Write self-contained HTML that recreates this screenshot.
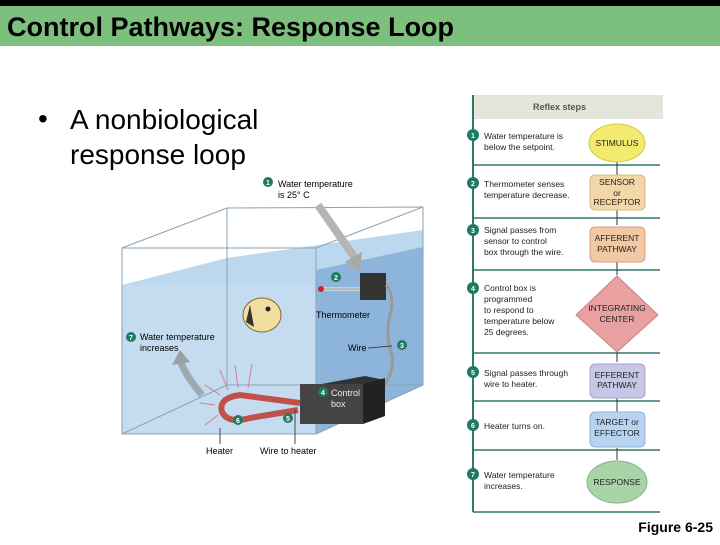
<!DOCTYPE html>
<html><head><meta charset="utf-8"><style>
body{margin:0;width:720px;height:540px;overflow:hidden;background:#fff;font-family:"Liberation Sans",sans-serif}
</style></head><body>
<svg width="720" height="540" xmlns="http://www.w3.org/2000/svg" font-family="Liberation Sans, sans-serif">
<rect x="0" y="0" width="720" height="6" fill="#000"/>
<rect x="0" y="6" width="720" height="40" fill="#7dbf7d"/>
<text x="7" y="36" font-size="27" font-weight="bold">Control Pathways: Response Loop</text>
<text x="38" y="128" font-size="28">•</text>
<text x="70" y="129" font-size="28">A nonbiological</text>
<text x="70" y="164" font-size="28">response loop</text>

<!-- tank -->
<polygon points="227,208 423,207 423,385 316,434 122,434 122,248" fill="#fff"/>
<polygon points="122,285 227,258 423,230 423,385 316,434 122,434" fill="#bcd8ee"/>
<polygon points="316,270 423,247 423,385 316,434" fill="#8db5dc"/>
<polygon points="122,285 316,285 316,434 122,434" fill="#c5dcf0"/>
<g fill="none" stroke="#8aa2b5" stroke-width="1">
<rect x="122" y="248" width="194" height="186"/>
<polyline points="122,248 227,208 423,207 316,248"/>
<line x1="423" y1="207" x2="423" y2="385"/><line x1="423" y1="385" x2="316" y2="434"/>
<line x1="227" y1="208" x2="227" y2="385"/><line x1="227" y1="385" x2="423" y2="385"/><line x1="227" y1="385" x2="122" y2="434"/>
</g>
<path d="M318,205 L355,258" stroke="#b5b5b5" stroke-width="8" fill="none"/>
<polygon points="345,262 362,252 360,272" fill="#a8a8a8"/>
<path d="M202,395 Q185,375 180,360" stroke="#a0a8b0" stroke-width="7" fill="none"/>
<polygon points="172,365 180,350 190,362" fill="#98a0a8"/>
<rect x="360" y="273" width="26" height="27" fill="#333"/>
<line x1="320" y1="289" x2="360" y2="289" stroke="#eee" stroke-width="3"/>
<line x1="320" y1="289" x2="360" y2="289" stroke="#888" stroke-width="1"/>
<circle cx="321" cy="289" r="3" fill="#c23"/>
<path d="M386,285 Q395,295 390,315 Q385,335 392,355 Q395,375 378,393" stroke="#999" stroke-width="3" fill="none"/>
<polygon points="300,388 365,376 385,380 320,392" fill="#333"/>
<rect x="300" y="384" width="63" height="40" fill="#444"/>
<polygon points="363,384 385,378 385,416 363,424" fill="#222"/>
<path d="M300,403 L240,395 Q218,398 222,412 Q228,424 250,418 L298,410" stroke="#c0514a" stroke-width="6" fill="none"/>
<g stroke="#d87a8a" stroke-width="1"><line x1="215" y1="405" x2="200" y2="403"/><line x1="220" y1="395" x2="205" y2="385"/><line x1="228" y1="390" x2="220" y2="370"/><line x1="238" y1="388" x2="235" y2="365"/><line x1="248" y1="388" x2="252" y2="364"/><line x1="218" y1="415" x2="205" y2="425"/></g>
<ellipse cx="262" cy="315" rx="19" ry="17" fill="#f1dfa0" stroke="#7a6a30"/>
<path d="M250,305 L246,322 L254,327" fill="#333"/>
<circle cx="268" cy="309" r="2.5" fill="#222"/>
<g font-size="9">
<circle cx="268" cy="182" r="5" fill="#1f7a63"/><text x="278" y="187">Water temperature</text><text x="278" y="198">is 25° C</text>
<circle cx="336" cy="277" r="5" fill="#1f7a63"/>
<text x="316" y="318">Thermometer</text>
<circle cx="131" cy="337" r="5" fill="#1f7a63"/><text x="140" y="340">Water temperature</text><text x="140" y="351">increases</text>
<text x="348" y="351">Wire</text><line x1="368" y1="348" x2="392" y2="346" stroke="#444"/>
<circle cx="402" cy="345" r="5" fill="#1f7a63"/>
<circle cx="323" cy="392" r="5" fill="#1f7a63"/><text x="331" y="396" fill="#eee">Control</text><text x="331" y="407" fill="#eee">box</text>
<circle cx="238" cy="420" r="5" fill="#1f7a63"/><circle cx="288" cy="418" r="5" fill="#1f7a63"/>
<text x="206" y="454">Heater</text><text x="260" y="454">Wire to heater</text>
<line x1="220" y1="444" x2="220" y2="428" stroke="#444"/><line x1="295" y1="444" x2="295" y2="410" stroke="#444"/>
</g>
<g font-size="7" font-weight="bold" fill="#fff" text-anchor="middle">
<text x="268" y="185">1</text><text x="336" y="280">2</text><text x="131" y="340">7</text><text x="402" y="348">3</text><text x="323" y="395">4</text><text x="238" y="423">6</text><text x="288" y="421">5</text>
</g>

<rect x="473" y="95" width="190" height="24" fill="#e4e6dc"/>
<text x="533" y="110" font-size="9" font-weight="bold" fill="#555">Reflex steps</text>
<line x1="473" y1="95" x2="473" y2="512" stroke="#2e7a66" stroke-width="2"/>
<g stroke="#2e7a66" stroke-width="1.5"><line x1="473" y1="165" x2="660" y2="165"/><line x1="473" y1="218" x2="660" y2="218"/><line x1="473" y1="270" x2="660" y2="270"/><line x1="473" y1="353" x2="660" y2="353"/><line x1="473" y1="401" x2="660" y2="401"/><line x1="473" y1="450" x2="660" y2="450"/><line x1="473" y1="512" x2="660" y2="512"/></g>
<g fill="#1f7a63"><circle cx="473" cy="135" r="6"/><circle cx="473" cy="183" r="6"/><circle cx="473" cy="230" r="6"/><circle cx="473" cy="288" r="6"/><circle cx="473" cy="372" r="6"/><circle cx="473" cy="425" r="6"/><circle cx="473" cy="474" r="6"/></g>
<g font-size="7" font-weight="bold" fill="#fff" text-anchor="middle">
<text x="473" y="138">1</text><text x="473" y="186">2</text><text x="473" y="233">3</text><text x="473" y="291">4</text><text x="473" y="375">5</text><text x="473" y="428">6</text><text x="473" y="477">7</text>
</g>
<g font-size="8.5" fill="#222">
<text x="484" y="139">Water temperature is</text><text x="484" y="150">below the setpoint.</text>
<text x="484" y="187">Thermometer senses</text><text x="484" y="198">temperature decrease.</text>
<text x="484" y="233">Signal passes from</text><text x="484" y="244">sensor to control</text><text x="484" y="255">box through the wire.</text>
<text x="484" y="291">Control box is</text><text x="484" y="302">programmed</text><text x="484" y="313">to respond to</text><text x="484" y="324">temperature below</text><text x="484" y="335">25 degrees.</text>
<text x="484" y="376">Signal passes through</text><text x="484" y="387">wire to heater.</text>
<text x="484" y="429">Heater turns on.</text>
<text x="484" y="478">Water temperature</text><text x="484" y="489">increases.</text>
</g>
<g stroke="#333" stroke-width="1"><line x1="617" y1="160" x2="617" y2="175"/><line x1="617" y1="210" x2="617" y2="225"/><line x1="617" y1="262" x2="617" y2="275"/><line x1="617" y1="350" x2="617" y2="362"/><line x1="617" y1="398" x2="617" y2="412"/><line x1="617" y1="448" x2="617" y2="460"/></g>
<ellipse cx="617" cy="143" rx="28" ry="19" fill="#f3ea70" stroke="#d8c940"/>
<rect x="590" y="175" width="55" height="35" rx="5" fill="#f3d7a8" stroke="#d8b880"/>
<rect x="590" y="227" width="55" height="35" rx="5" fill="#f3c8a5" stroke="#d8a080"/>
<polygon points="617,276 658,315 617,352 576,315" fill="#e8a0a0" stroke="#c88080"/>
<rect x="590" y="364" width="55" height="34" rx="5" fill="#c8c6e6" stroke="#a8a6c6"/>
<rect x="590" y="412" width="55" height="35" rx="5" fill="#b8d3f0" stroke="#90b0d8"/>
<ellipse cx="617" cy="482" rx="30" ry="21" fill="#a8d4a8" stroke="#88b488"/>
<g font-size="8.5" text-anchor="middle" fill="#222">
<text x="617" y="146">STIMULUS</text>
<text x="617" y="185">SENSOR</text><text x="617" y="196">or</text><text x="617" y="205">RECEPTOR</text>
<text x="617" y="241">AFFERENT</text><text x="617" y="252">PATHWAY</text>
<text x="617" y="311">INTEGRATING</text><text x="617" y="322">CENTER</text>
<text x="617" y="378">EFFERENT</text><text x="617" y="388">PATHWAY</text>
<text x="617" y="425">TARGET or</text><text x="617" y="436">EFFECTOR</text>
<text x="617" y="485">RESPONSE</text>
</g>
<text x="713" y="532" font-size="14" font-weight="bold" text-anchor="end">Figure 6-25</text>
</svg>
</body></html>
